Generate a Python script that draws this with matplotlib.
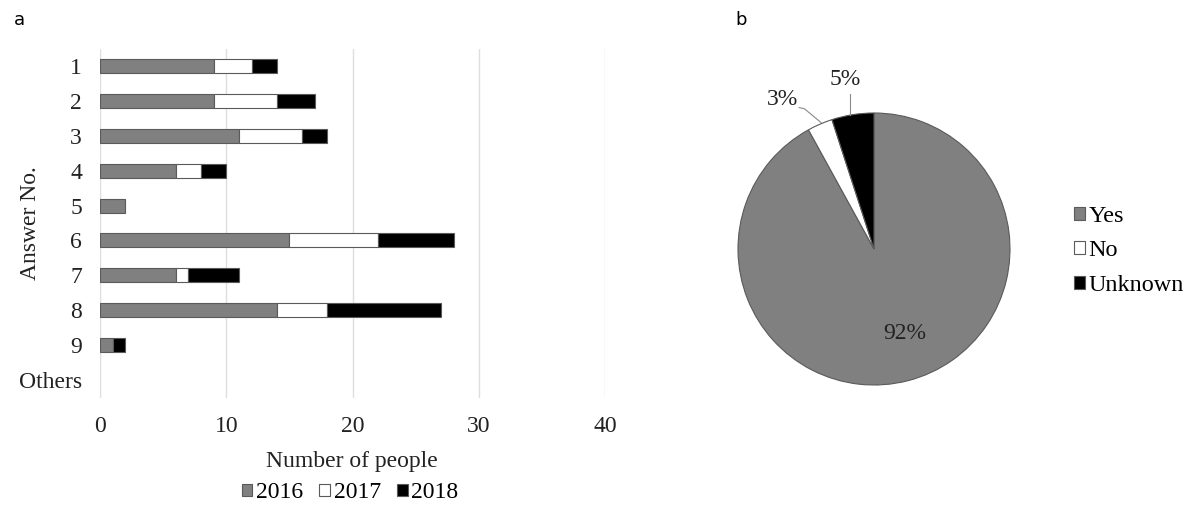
import numpy as np
import matplotlib.pyplot as plt
from matplotlib.patches import Patch

plt.rcParams['font.family'] = ['Liberation Serif', 'DejaVu Serif']

answers = ["1", "2", "3", "4", "5", "6", "7", "8", "9", "Others"]
y2016 = [9, 9, 11, 6, 2, 15, 6, 14, 1, 0]
y2017 = [3, 5, 5, 2, 0, 7, 1, 4, 0, 0]
y2018 = [2, 3, 2, 2, 0, 6, 4, 9, 1, 0]
years = ["2016", "2017", "2018"]

pie_labels = ["Yes", "No", "Unknown"]
pie_values = [92, 3, 5]

gray = "#808080"
edge = "#5a5a5a"
txt = "#222222"
colors = [gray, "white", "black"]
fs = 17

fig = plt.figure(figsize=(12, 5.08), dpi=100)
W, H = 1200, 508

# stacked horizontal bars
ax = fig.add_axes([100 / W, 110.5 / H, 505 / W, 349 / H])
ypos = np.arange(len(answers))
left = np.zeros(len(answers))
for vals, c in zip([y2016, y2017, y2018], colors):
    vals = np.array(vals)
    nz = vals > 0
    ax.barh(ypos[nz], vals[nz], left=left[nz], height=0.4, color=c,
            edgecolor=edge, linewidth=0.8, zorder=3)
    left += vals
ax.set_xlim(0, 40)
ax.set_ylim(len(answers) - 0.5, -0.5)
ax.set_xticks([0, 10, 20, 30, 40])
ax.set_yticks(ypos)
ax.set_yticklabels(answers)
ax.tick_params(length=0, labelsize=fs, colors=txt)
ax.tick_params(axis="x", pad=13)
ax.tick_params(axis="y", pad=13)
ax.grid(axis="x", color="#dedede", linewidth=1, zorder=0)
for s in ax.spines.values():
    s.set_visible(False)

fig.text(352 / W, 1 - 462 / H, "Number of people", fontsize=fs, color=txt,
         ha="center", va="center")
fig.text(30 / W, 1 - 223 / H, "Answer No.", fontsize=fs, color=txt,
         ha="center", va="center", rotation=90)

handles = [Patch(facecolor=c, edgecolor=edge, linewidth=0.8) for c in colors]
fig.legend(handles, years, loc="center", bbox_to_anchor=(350 / W, 1 - 493 / H), ncol=3,
           frameon=False, fontsize=fs, handlelength=0.45, handleheight=0.45,
           handletextpad=0.15, columnspacing=0.7, borderpad=0, borderaxespad=0)

# pie chart
pax = fig.add_axes([738 / W, 123 / H, 272 / W, 272 / H])
wedges, _ = pax.pie(pie_values, colors=colors, startangle=90, counterclock=False,
                    radius=1, wedgeprops=dict(edgecolor=edge, linewidth=0.8))
pax.set_xlim(-1, 1)
pax.set_ylim(-1, 1)
pax.set_aspect("auto")

# percentage labels with leader lines
pax.text(0.228, -0.618, f"{pie_values[0]}%", fontsize=fs, ha="center", va="center", color=txt)
pax.text(-0.676, 1.096, f"{pie_values[1]}%", fontsize=fs, ha="center", va="center", color=txt)
pax.text(-0.213, 1.243, f"{pie_values[2]}%", fontsize=fs, ha="center", va="center", color=txt)
pax.plot([-0.55, -0.51, -0.39], [1.04, 1.03, 0.93], color="#8a8a8a", lw=0.8, clip_on=False)
pax.plot([-0.176, -0.176], [1.14, 0.985], color="#8a8a8a", lw=0.8, clip_on=False)

fig.legend(wedges, pie_labels, loc="center left", bbox_to_anchor=(1074 / W, 1 - 251 / H),
           frameon=False, fontsize=17.5, handlelength=0.45, handleheight=0.45,
           handletextpad=0.15, labelspacing=0.56, borderpad=0, borderaxespad=0)

fig.text(14 / W, 1 - 20 / H, "a", family="DejaVu Sans", fontsize=13, va="center")
fig.text(735 / W, 1 - 20 / H, "b", family="DejaVu Sans", fontsize=13, va="center")

fig.savefig("out.png", dpi=100, facecolor="white")
